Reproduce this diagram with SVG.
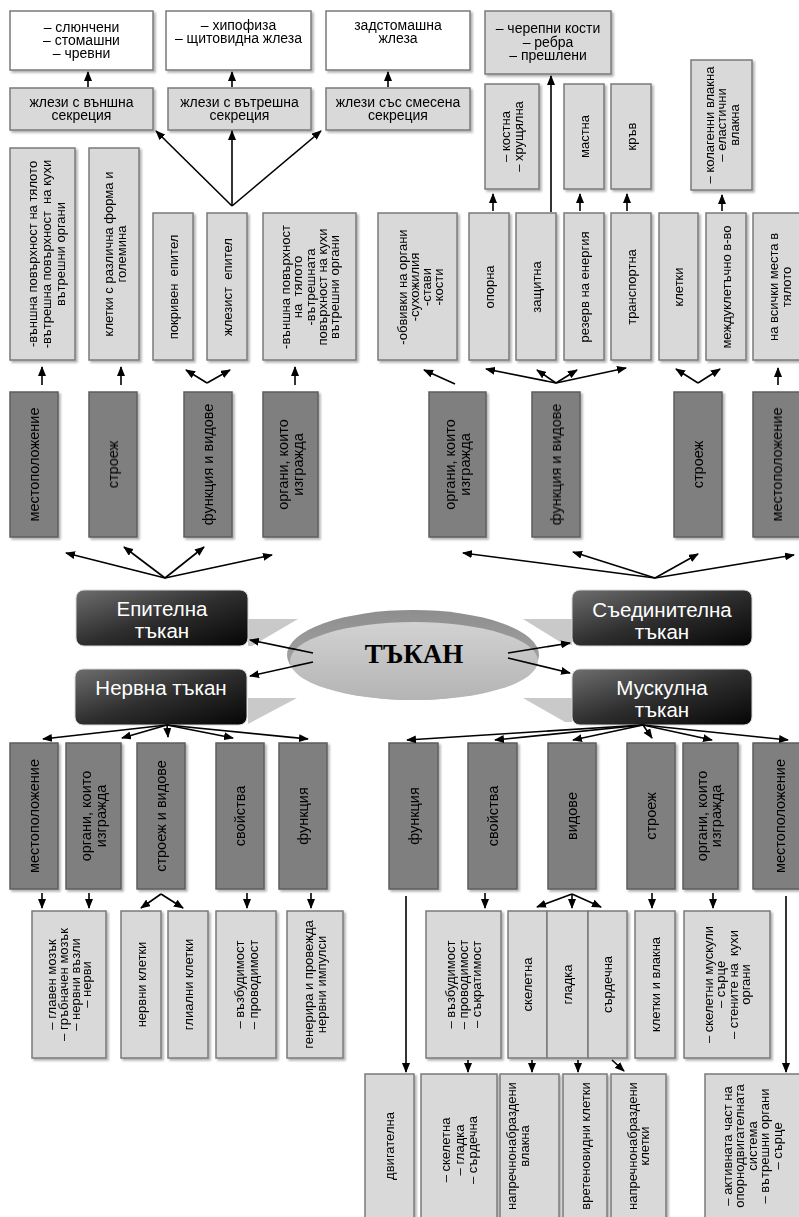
<svg xmlns="http://www.w3.org/2000/svg" width="799" height="1217" viewBox="0 0 799 1217">
<defs>
<style>
.w{fill:#fff;stroke:#7a7a7a;stroke-width:1.5}
.l{fill:#d9d9d9;stroke:#7a7a7a;stroke-width:1.5}
.d{fill:#7f7f7f;stroke:#5e5e5e;stroke-width:1.5}
.hb{fill:url(#hg);stroke:#d8d8d8;stroke-width:1}
.t{font-family:"Liberation Sans",Arial,sans-serif;font-size:14px;fill:#000;text-anchor:middle;white-space:pre}
.tl{font-size:13px}
.td{font-size:14.5px}
.ht{font-size:20.5px;fill:#fff}
.tk{font-family:"Liberation Serif","Times New Roman",serif;font-size:27px;font-weight:bold;fill:#000;text-anchor:middle}
.c{stroke:#000;stroke-width:1.6;fill:none;marker-end:url(#ah)}
.wd{fill:#c9c9c9}
</style>
<marker id="ah" viewBox="0 0 10 8" refX="9" refY="4" markerWidth="10" markerHeight="8" markerUnits="userSpaceOnUse" orient="auto"><path d="M0,0 L10,4 L0,8 z" fill="#000"/></marker>
<filter id="sh" x="-20%" y="-20%" width="140%" height="140%"><feDropShadow dx="2" dy="2" stdDeviation="1" flood-color="#000" flood-opacity="0.3"/></filter>
<linearGradient id="hg" x1="0" y1="0" x2="1" y2="1"><stop offset="0" stop-color="#6e6e6e"/><stop offset="0.5" stop-color="#2e2e2e"/><stop offset="1" stop-color="#050505"/></linearGradient>
<linearGradient id="eg" x1="0" y1="0" x2="0" y2="1"><stop offset="0" stop-color="#d2d2d2"/><stop offset="1" stop-color="#b4b4b4"/></linearGradient>
<linearGradient id="rg" x1="0" y1="0" x2="0" y2="1"><stop offset="0" stop-color="#8e8e8e"/><stop offset="1" stop-color="#b0b0b0"/></linearGradient>
</defs>
<rect width="799" height="1217" fill="#fff"/>

<g id="center">
<polygon class="wd" points="248,619 298,619 252,646 248,646"/>
<polygon class="wd" points="248,698 297,698 248,724"/>
<polygon class="wd" points="523,619 572,619 572,645 565,645"/>
<polygon class="wd" points="523,698 572,698 572,722 565,722"/>
<ellipse cx="413" cy="655" rx="126" ry="45" fill="url(#rg)"/>
<ellipse cx="414" cy="661" rx="124" ry="39" fill="url(#eg)"/>
<text class="tk" x="414" y="663">ТЪКАН</text>
</g>

<g id="h-epit"><rect class="hb" x="76" y="590" width="172" height="56" rx="8"/><text class="t ht" x="162" y="616">Епителна</text><text class="t ht" x="162" y="638">тъкан</text></g>
<g id="h-nerv"><rect class="hb" x="75" y="669" width="172" height="56" rx="8"/><text class="t ht" x="161" y="695">Нервна тъкан</text></g>
<g id="h-sad"><rect class="hb" x="572" y="590" width="180" height="56" rx="8"/><text class="t ht" x="662" y="617">Съединителна</text><text class="t ht" x="662" y="639">тъкан</text></g>
<g id="h-musk"><rect class="hb" x="572" y="669" width="180" height="56" rx="8"/><text class="t ht" x="662" y="695">Мускулна</text><text class="t ht" x="662" y="717">тъкан</text></g>

<g id="top-boxes" filter="url(#sh)">
<g id="n-sliunch"><rect class="w" x="10" y="11" width="143" height="59"/><text class="t" x="81.5" y="32">– слюнчени</text><text class="t" x="81.5" y="45">– стомашни</text><text class="t" x="81.5" y="58">– чревни</text></g>
<g id="n-hipof"><rect class="w" x="166" y="11" width="145" height="59"/><text class="t" x="238.5" y="30">– хипофиза</text><text class="t" x="238.5" y="43">– щитовидна жлеза</text></g>
<g id="n-zadst"><rect class="w" x="326" y="11" width="144" height="59"/><text class="t" x="398" y="30">задстомашна</text><text class="t" x="398" y="43">жлеза</text></g>
<g id="n-cherep"><rect class="l" x="485" y="11" width="126" height="63"/><text class="t" x="548" y="33">– черепни кости</text><text class="t" x="548" y="46.5">– ребра</text><text class="t" x="548" y="60">– прешлени</text></g>
<g id="n-vanshna"><rect class="l" x="10" y="88" width="143" height="42"/><text class="t" x="81.5" y="107">жлези с външна</text><text class="t" x="81.5" y="120">секреция</text></g>
<g id="n-vatr"><rect class="l" x="168" y="88" width="143" height="42"/><text class="t" x="239.5" y="107">жлези с вътрешна</text><text class="t" x="239.5" y="120">секреция</text></g>
<g id="n-smes"><rect class="l" x="326" y="88" width="144" height="42"/><text class="t" x="398" y="107">жлези със смесена</text><text class="t" x="398" y="120">секреция</text></g>
</g>

<g id="light-boxes" filter="url(#sh)">
<g id="e-mesto"><rect class="l" x="10" y="148" width="65" height="212"/><text class="t tl" transform="translate(46,254) rotate(-90)"><tspan x="0" y="-9.3">-външна повърхност на тялото</tspan><tspan x="0" y="4.7">-вътрешна повърхност  на кухи</tspan><tspan x="0" y="18.7">вътрешни органи</tspan></text></g>
<g id="e-stroezh"><rect class="l" x="89" y="148" width="50" height="212"/><text class="t tl" transform="translate(115,254) rotate(-90)"><tspan x="0" y="-1.55">клетки с различна форма и</tspan><tspan x="0" y="10.95">големина</tspan></text></g>
<g id="e-pokriven"><rect class="l" x="153" y="213" width="40" height="147"/><text class="t tl" transform="translate(173,287) rotate(-90)" y="4.7">покривен  епител</text></g>
<g id="e-zhlezist"><rect class="l" x="207" y="213" width="40" height="147"/><text class="t tl" transform="translate(227,287) rotate(-90)" y="4.7">жлезист  епител</text></g>
<g id="e-organi"><rect class="l" x="263" y="213" width="93" height="147"/><text class="t tl" transform="translate(310,287) rotate(-90)"><tspan x="0" y="-19.9">-външна повърхност</tspan><tspan x="0" y="-7.6">на  тялото</tspan><tspan x="0" y="4.7">-вътрешната</tspan><tspan x="0" y="17">повърхност на кухи</tspan><tspan x="0" y="29.3">вътрешни органи</tspan></text></g>

<g id="s-obvivki"><rect class="l" x="378" y="213" width="79" height="147"/><text class="t tl" transform="translate(420,287) rotate(-90)"><tspan x="0" y="-13.3">-обвивки на органи</tspan><tspan x="0" y="-1.3">-сухожилия</tspan><tspan x="0" y="10.7">-стави</tspan><tspan x="0" y="22.7">-кости</tspan></text></g>
<g id="s-oporna"><rect class="l" x="469" y="213" width="40" height="147"/><text class="t tl" transform="translate(489,287) rotate(-90)" y="4.7">опорна</text></g>
<g id="s-zashtitna"><rect class="l" x="516" y="213" width="40" height="147"/><text class="t tl" transform="translate(536,287) rotate(-90)" y="4.7">защитна</text></g>
<g id="s-rezerv"><rect class="l" x="564" y="213" width="40" height="147"/><text class="t tl" transform="translate(584,287) rotate(-90)" y="4.7">резерв на енергия</text></g>
<g id="s-transp"><rect class="l" x="611" y="213" width="40" height="147"/><text class="t tl" transform="translate(631,287) rotate(-90)" y="4.7">транспортна</text></g>
<g id="s-kletki"><rect class="l" x="659" y="213" width="39" height="147"/><text class="t tl" transform="translate(678.5,287) rotate(-90)" y="4.7">клетки</text></g>
<g id="s-mezhdu"><rect class="l" x="706" y="213" width="40" height="147"/><text class="t tl" transform="translate(726,287) rotate(-90)" y="4.7">междуклетъчно в-во</text></g>
<g id="s-vsichki"><rect class="l" x="753" y="213" width="54" height="147"/><text class="t tl" transform="translate(780,287) rotate(-90)"><tspan x="0" y="-1.55">на всички места в</tspan><tspan x="0" y="10.95">тялото</tspan></text></g>

<g id="s-kostna"><rect class="l" x="485" y="84" width="54" height="105"/><text class="t tl" transform="translate(512,136.5) rotate(-90)"><tspan x="0" y="-1.55">– костна</tspan><tspan x="0" y="10.95">– хрущялна</tspan></text></g>
<g id="s-mastna"><rect class="l" x="564" y="84" width="40" height="105"/><text class="t tl" transform="translate(584,136.5) rotate(-90)" y="4.7">мастна</text></g>
<g id="s-krav"><rect class="l" x="611" y="84" width="40" height="105"/><text class="t tl" transform="translate(631,136.5) rotate(-90)" y="4.7">кръв</text></g>
<g id="s-kolagen"><rect class="l" x="691" y="60" width="61" height="130"/><text class="t tl" transform="translate(721.5,125) rotate(-90)"><tspan x="0" y="-7.8">– колагенни влакна</tspan><tspan x="0" y="4.7">– еластични</tspan><tspan x="0" y="17.2">влакна</tspan></text></g>

<g id="n-mozak"><rect class="l" x="32" y="911" width="74" height="147"/><text class="t tl" transform="translate(69,984.5) rotate(-90)"><tspan x="0" y="-13">– главен мозък</tspan><tspan x="0" y="-1.2">– гръбначен мозък</tspan><tspan x="0" y="10.6">– нервни възли</tspan><tspan x="0" y="22.4">– нерви</tspan></text></g>
<g id="n-nervni"><rect class="l" x="121" y="911" width="40" height="147"/><text class="t tl" transform="translate(141,984.5) rotate(-90)" y="4.7">нервни клетки</text></g>
<g id="n-glialni"><rect class="l" x="168" y="911" width="40" height="147"/><text class="t tl" transform="translate(188,984.5) rotate(-90)" y="4.7">глиални клетки</text></g>
<g id="n-vazbud"><rect class="l" x="216" y="911" width="60" height="147"/><text class="t tl" transform="translate(246,984.5) rotate(-90)"><tspan x="0" y="-2.3">– възбудимост</tspan><tspan x="0" y="11.7">– проводимост</tspan></text></g>
<g id="n-generira"><rect class="l" x="287" y="911" width="56" height="147"/><text class="t tl" transform="translate(315,984.5) rotate(-90)"><tspan x="0" y="-1.55">генерира и провежда</tspan><tspan x="0" y="10.95">нервни импулси</tspan></text></g>

<g id="m-vazbud"><rect class="l" x="426" y="911" width="75" height="147"/><text class="t tl" transform="translate(463.5,984.5) rotate(-90)"><tspan x="0" y="-8.3">– възбудимост</tspan><tspan x="0" y="4.7">– проводимост</tspan><tspan x="0" y="17.7">– съкратимост</tspan></text></g>
<g id="m-skeletna"><rect class="l" x="508" y="911" width="39" height="147"/><text class="t tl" transform="translate(527.5,984.5) rotate(-90)" y="4.7">скелетна</text></g>
<g id="m-gladka"><rect class="l" x="547" y="911" width="41" height="147"/><text class="t tl" transform="translate(567.5,984.5) rotate(-90)" y="4.7">гладка</text></g>
<g id="m-sardechna"><rect class="l" x="588" y="911" width="39" height="147"/><text class="t tl" transform="translate(607.5,984.5) rotate(-90)" y="4.7">сърдечна</text></g>
<g id="m-kletki"><rect class="l" x="635" y="911" width="40" height="147"/><text class="t tl" transform="translate(655,984.5) rotate(-90)" y="4.7">клетки и влакна</text></g>
<g id="m-organi"><rect class="l" x="684" y="911" width="86" height="147"/><text class="t tl" transform="translate(727,984.5) rotate(-90)"><tspan x="0" y="-14.05">– скелетни мускули</tspan><tspan x="0" y="-1.55">– сърце</tspan><tspan x="0" y="10.95">– стените на  кухи</tspan><tspan x="0" y="23.45">органи</tspan></text></g>

<g id="m-dvigatelna"><rect class="l" x="365" y="1074" width="49" height="160"/><text class="t tl" transform="translate(389.5,1146) rotate(-90)" y="4.7">двигателна</text></g>
<g id="m-vidove3"><rect class="l" x="421" y="1074" width="76" height="160"/><text class="t tl" transform="translate(459,1150) rotate(-90)"><tspan x="0" y="-8.8">– скелетна</tspan><tspan x="0" y="4.7">– гладка</tspan><tspan x="0" y="18.2">– сърдечна</tspan></text></g>
<g id="m-vlakna"><rect class="l" x="500" y="1074" width="59" height="160"/><text class="t tl" transform="translate(518,1146) rotate(-90)"><tspan x="0" y="-1.8">напречнонабраздени</tspan><tspan x="0" y="11.2">влакна</tspan></text></g>
<g id="m-vreteno"><rect class="l" x="563" y="1074" width="44" height="160"/><text class="t tl" transform="translate(585,1146) rotate(-90)" y="4.7">вретеновидни клетки</text></g>
<g id="m-naprechno"><rect class="l" x="611" y="1074" width="55" height="160"/><text class="t tl" transform="translate(638.5,1146) rotate(-90)"><tspan x="0" y="-1.55">напречнонабраздени</tspan><tspan x="0" y="10.95">клетки</tspan></text></g>
<g id="m-aktivna"><rect class="l" x="705" y="1074" width="100" height="160"/><text class="t tl" transform="translate(752,1146) rotate(-90)"><tspan x="0" y="-20.3">– активната част на</tspan><tspan x="0" y="-7.8">опорнодвигателната</tspan><tspan x="0" y="4.7">система</tspan><tspan x="0" y="17.2">– вътрешни органи</tspan><tspan x="0" y="29.7">– сърце</tspan></text></g>
</g>

<g id="dark-boxes" filter="url(#sh)">
<g id="d-e-mesto"><rect class="d" x="10" y="392" width="48" height="145"/><text class="t td" transform="translate(34,464.5) rotate(-90)" y="5.2">местоположение</text></g>
<g id="d-e-stroezh"><rect class="d" x="89" y="392" width="48" height="145"/><text class="t td" transform="translate(113,464.5) rotate(-90)" y="5.2">строеж</text></g>
<g id="d-e-funk"><rect class="d" x="184" y="392" width="48" height="145"/><text class="t td" transform="translate(208,464.5) rotate(-90)" y="5.2">функция и видове</text></g>
<g id="d-e-organi"><rect class="d" x="263" y="392" width="55" height="145"/><text class="t td" transform="translate(290.5,464.5) rotate(-90)"><tspan x="0" y="-2.05">органи, които</tspan><tspan x="0" y="12.45">изгражда</tspan></text></g>
<g id="d-s-organi"><rect class="d" x="429" y="392" width="57" height="145"/><text class="t td" transform="translate(457.5,464.5) rotate(-90)"><tspan x="0" y="-2.05">органи, които</tspan><tspan x="0" y="12.45">изгражда</tspan></text></g>
<g id="d-s-funk"><rect class="d" x="532" y="392" width="48" height="145"/><text class="t td" transform="translate(556,464.5) rotate(-90)" y="5.2">функция и видове</text></g>
<g id="d-s-stroezh"><rect class="d" x="674" y="392" width="48" height="145"/><text class="t td" transform="translate(698,464.5) rotate(-90)" y="5.2">строеж</text></g>
<g id="d-s-mesto"><rect class="d" x="753" y="392" width="48" height="145"/><text class="t td" transform="translate(777,464.5) rotate(-90)" y="5.2">местоположение</text></g>

<g id="d-n-mesto"><rect class="d" x="10" y="743" width="48" height="146"/><text class="t td" transform="translate(34,816) rotate(-90)" y="5.2">местоположение</text></g>
<g id="d-n-organi"><rect class="d" x="66" y="743" width="55" height="146"/><text class="t td" transform="translate(93.5,816) rotate(-90)"><tspan x="0" y="-2.05">органи, които</tspan><tspan x="0" y="12.45">изгражда</tspan></text></g>
<g id="d-n-stroezh"><rect class="d" x="137" y="743" width="48" height="146"/><text class="t td" transform="translate(161,816) rotate(-90)" y="5.2">строеж и видове</text></g>
<g id="d-n-svoistva"><rect class="d" x="216" y="743" width="48" height="146"/><text class="t td" transform="translate(240,816) rotate(-90)" y="5.2">свойства</text></g>
<g id="d-n-funk"><rect class="d" x="279" y="743" width="48" height="146"/><text class="t td" transform="translate(303,816) rotate(-90)" y="5.2">функция</text></g>
<g id="d-m-funk"><rect class="d" x="389" y="743" width="49" height="146"/><text class="t td" transform="translate(413.5,816) rotate(-90)" y="5.2">функция</text></g>
<g id="d-m-svoistva"><rect class="d" x="468" y="743" width="49" height="146"/><text class="t td" transform="translate(492.5,816) rotate(-90)" y="5.2">свойства</text></g>
<g id="d-m-vidove"><rect class="d" x="548" y="743" width="48" height="146"/><text class="t td" transform="translate(572,816) rotate(-90)" y="5.2">видове</text></g>
<g id="d-m-stroezh"><rect class="d" x="627" y="743" width="48" height="146"/><text class="t td" transform="translate(651,816) rotate(-90)" y="5.2">строеж</text></g>
<g id="d-m-organi"><rect class="d" x="683" y="743" width="55" height="146"/><text class="t td" transform="translate(709,816) rotate(-90)"><tspan x="0" y="-2.05">органи, които</tspan><tspan x="0" y="12.45">изгражда</tspan></text></g>
<g id="d-m-mesto"><rect class="d" x="753" y="743" width="53" height="146"/><text class="t td" transform="translate(780,816) rotate(-90)" y="5.2">местоположение</text></g>
</g>

<g id="connectors">
<path class="c" d="M88,87 L88,72"/>
<path class="c" d="M232,87 L232,72"/>
<path class="c" d="M388,87 L388,72"/>
<path class="c" d="M232,206 L156,131"/>
<path class="c" d="M232,206 L232,131"/>
<path class="c" d="M232,206 L321,131"/>
<path class="c" d="M551,212 L551,76"/>
<path class="c" d="M493,211 L493,194"/>
<path class="c" d="M580,211 L580,194"/>
<path class="c" d="M627,211 L627,194"/>
<path class="c" d="M722,211 L722,195"/>

<path class="c" d="M42,385 L42,367"/>
<path class="c" d="M121,385 L121,367"/>
<path class="c" d="M207,383 L186,370"/>
<path class="c" d="M207,383 L230,370"/>
<path class="c" d="M295,385 L295,367"/>
<path class="c" d="M455,384 L424,370"/>
<path class="c" d="M556,383 L486,369"/>
<path class="c" d="M556,383 L537,370"/>
<path class="c" d="M556,383 L577,370"/>
<path class="c" d="M556,383 L626,368"/>
<path class="c" d="M698,383 L676,369"/>
<path class="c" d="M698,383 L720,369"/>
<path class="c" d="M778,385 L778,368"/>

<path class="c" d="M165,578 L66,553"/>
<path class="c" d="M165,578 L124,547"/>
<path class="c" d="M165,578 L204,547"/>
<path class="c" d="M165,578 L272,555"/>
<path class="c" d="M655,578 L463,553"/>
<path class="c" d="M655,578 L573,552"/>
<path class="c" d="M655,578 L698,554"/>
<path class="c" d="M655,578 L794,555"/>

<path class="c" d="M313,653 L250,640"/>
<path class="c" d="M313,662 L250,676"/>
<path class="c" d="M508,653 L570,643"/>
<path class="c" d="M508,658 L570,673"/>

<path class="c" d="M167,725 L43,739"/>
<path class="c" d="M167,725 L122,738"/>
<path class="c" d="M167,725 L168,737"/>
<path class="c" d="M167,725 L233,738"/>
<path class="c" d="M167,725 L308,739"/>
<path class="c" d="M643,725 L407,740"/>
<path class="c" d="M643,725 L495,740"/>
<path class="c" d="M643,725 L573,740"/>
<path class="c" d="M643,725 L652,738"/>
<path class="c" d="M643,725 L712,740"/>
<path class="c" d="M643,725 L788,740"/>

<path class="c" d="M42,893 L42,908"/>
<path class="c" d="M89,893 L89,908"/>
<path class="c" d="M161,894 L141,908"/>
<path class="c" d="M161,894 L183,908"/>
<path class="c" d="M247,893 L247,908"/>
<path class="c" d="M311,893 L311,908"/>
<path class="c" d="M406,896 L406,1072"/>
<path class="c" d="M485,893 L485,908"/>
<path class="c" d="M572,894 L537,907"/>
<path class="c" d="M572,894 L572,908"/>
<path class="c" d="M572,894 L601,907"/>
<path class="c" d="M652,893 L652,908"/>
<path class="c" d="M713,893 L713,908"/>
<path class="c" d="M786,896 L786,1072"/>

<path class="c" d="M468,1060 L468,1072"/>
<path class="c" d="M532,1060 L532,1072"/>
<path class="c" d="M578,1060 L578,1072"/>
<path class="c" d="M612,1060 L624,1071"/>
</g>
</svg>
